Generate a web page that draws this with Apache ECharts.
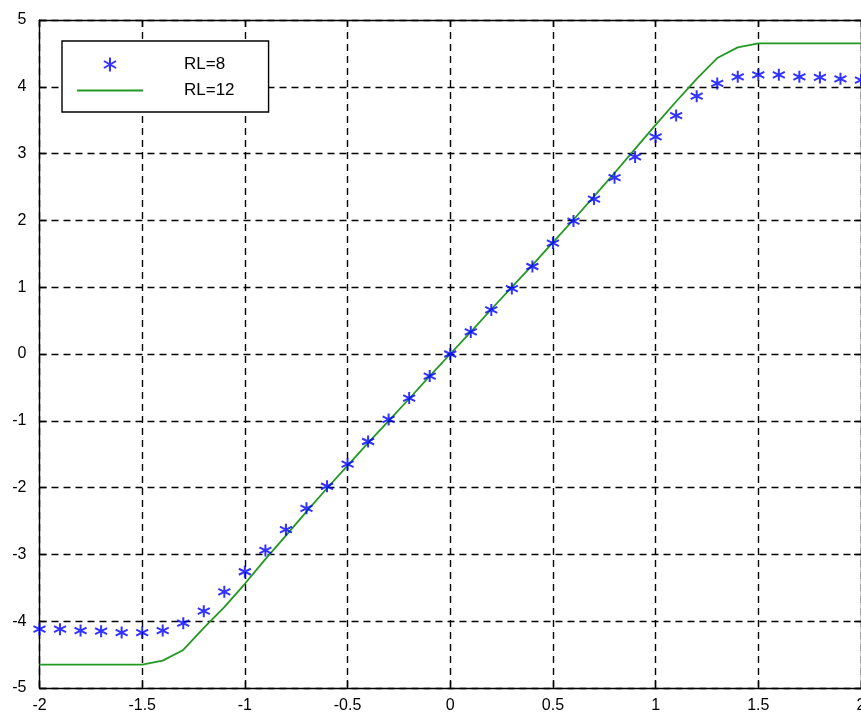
<!DOCTYPE html>
<html>
<head>
<meta charset="utf-8">
<script src="https://cdn.jsdelivr.net/npm/echarts@6/dist/echarts.min.js"></script>
<style>
html,body{margin:0;padding:0;background:#fff;}
#chart{width:861px;height:720px;}
</style>
</head>
<body>
<div id="chart"></div>
<script>
const xValues = [-2, -1.9, -1.8, -1.7, -1.6, -1.5, -1.4, -1.3, -1.2, -1.1, -1.0, -0.9, -0.8, -0.7, -0.6, -0.5, -0.4, -0.3, -0.2, -0.1, 0,
                 0.1, 0.2, 0.3, 0.4, 0.5, 0.6, 0.7, 0.8, 0.9, 1.0, 1.1, 1.2, 1.3, 1.4, 1.5, 1.6, 1.7, 1.8, 1.9, 2.0];
const rl8 = [-4.12, -4.12, -4.14, -4.15, -4.17, -4.17, -4.14, -4.03, -3.85, -3.56, -3.26, -2.94, -2.63, -2.31, -1.98, -1.65, -1.31, -0.98, -0.66, -0.33, 0,
             0.33, 0.66, 0.98, 1.31, 1.66, 1.99, 2.32, 2.64, 2.95, 3.25, 3.57, 3.86, 4.05, 4.15, 4.18, 4.18, 4.15, 4.14, 4.12, 4.10];
const rl12 = [-4.65, -4.65, -4.65, -4.65, -4.65, -4.65, -4.59, -4.43, -4.10, -3.79, -3.44, -3.07, -2.72, -2.36, -2.01, -1.67, -1.33, -1.00, -0.67, -0.33, 0,
              0.33, 0.67, 1.00, 1.33, 1.67, 2.01, 2.36, 2.71, 3.07, 3.43, 3.78, 4.12, 4.43, 4.59, 4.65, 4.65, 4.65, 4.65, 4.65, 4.65];
const seriesNames = ['RL=8', 'RL=12'];
const xTicks = {min: -2, max: 2, interval: 0.5};
const yTicks = {min: -5, max: 5, interval: 1};

const star = 'path://M0,-1L0,1M-0.866,-0.5L0.866,0.5M-0.866,0.5L0.866,-0.5';
const lineIcon = 'path://M0,0H66V1.8H0Z';
const font = 'Liberation Sans, Arial, sans-serif';

const chart = echarts.init(document.getElementById('chart'), null, {renderer: 'canvas'});
const grid = {left: 39.5, right: 0, top: 20, bottom: 32, containLabel: false, outerBoundsMode: 'none'};
const dashed = {show: true, lineStyle: {color: '#000', type: [7, 5], width: 1.4}};
const axisLine = {show: true, onZero: false, lineStyle: {color: '#000', width: 1.4}};
const tick = {show: true, inside: true, length: 7, lineStyle: {color: '#000', width: 1.4}};

chart.setOption({
  backgroundColor: '#fff',
  animation: false,
  grid: grid,
  xAxis: [{
    type: 'value', min: xTicks.min, max: xTicks.max, interval: xTicks.interval,
    position: 'bottom',
    axisLine: axisLine, axisTick: tick, splitLine: dashed,
    axisLabel: {color: '#000', fontSize: 16, fontFamily: font, margin: 10, hideOverlap: false}
  }, {
    type: 'value', min: xTicks.min, max: xTicks.max, interval: xTicks.interval,
    position: 'top',
    axisLine: axisLine, axisTick: tick, splitLine: {show: false}, axisLabel: {show: false}
  }],
  yAxis: [{
    type: 'value', min: yTicks.min, max: yTicks.max, interval: yTicks.interval,
    position: 'left',
    axisLine: axisLine, axisTick: tick, splitLine: dashed,
    axisLabel: {color: '#000', fontSize: 16, fontFamily: font, margin: 13, hideOverlap: false}
  }, {
    type: 'value', min: yTicks.min, max: yTicks.max, interval: yTicks.interval,
    position: 'right',
    axisLine: axisLine, axisTick: tick, splitLine: {show: false}, axisLabel: {show: false}
  }],
  legend: {
    left: 62, top: 41, orient: 'vertical',
    backgroundColor: '#fff', borderColor: '#000', borderWidth: 1.4, borderRadius: 0,
    padding: [15, 34, 13, 15], itemGap: 9,
    itemWidth: 66, itemHeight: 14,
    textStyle: {color: '#000', fontSize: 17, fontFamily: font, padding: [0, 0, 0, 36]},
    data: [
      {name: seriesNames[0], icon: star, itemStyle: {color: '#0000ff', borderColor: '#0000ff', borderWidth: 2}},
      {name: seriesNames[1], icon: lineIcon, itemStyle: {color: '#229922', borderWidth: 0}}
    ]
  },
  series: [{
    name: seriesNames[0], type: 'scatter',
    data: xValues.map((x, i) => [x, rl8[i]]),
    symbol: star, symbolSize: 12,
    itemStyle: {color: '#0000ff', borderColor: '#0000ff', borderWidth: 2},
    z: 3
  }, {
    name: seriesNames[1], type: 'line',
    data: xValues.map((x, i) => [x, rl12[i]]),
    symbol: 'none', showSymbol: false,
    lineStyle: {color: '#229922', width: 1.8},
    itemStyle: {color: '#229922'},
    z: 2
  }]
});
</script>
</body>
</html>
